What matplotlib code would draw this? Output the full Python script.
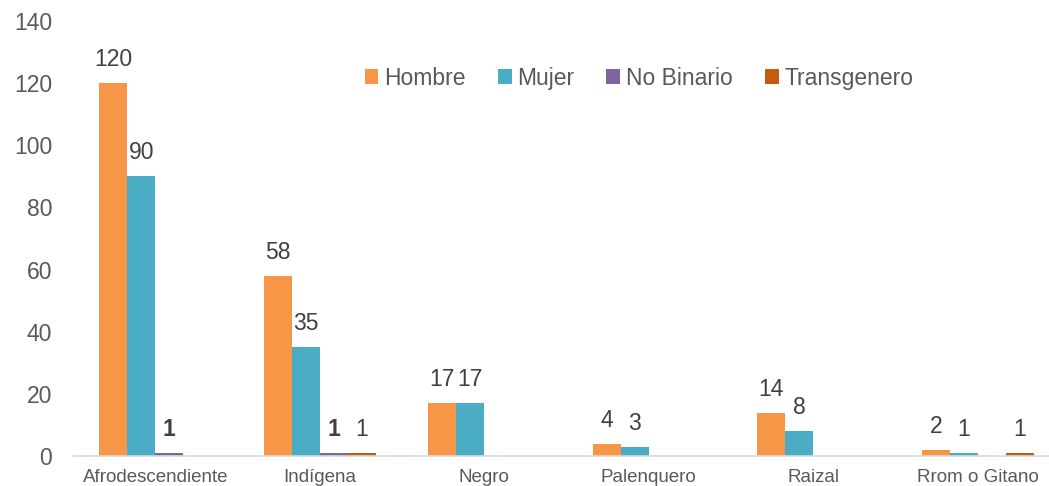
import numpy as np
import matplotlib
matplotlib.use("Agg")
import matplotlib.pyplot as plt

plt.rcParams['font.family'] = ['Liberation Sans', 'DejaVu Sans']

categorias = ['Afrodescendiente', 'Indígena', 'Negro', 'Palenquero', 'Raizal', 'Rrom o Gitano']
series = ['Hombre', 'Mujer', 'No Binario', 'Transgenero']
hombre = [120, 58, 17, 4, 14, 2]
mujer = [90, 35, 17, 3, 8, 1]
no_binario = [1, 1, 0, 0, 0, 0]
transgenero = [0, 1, 0, 0, 0, 1]
colores = ['#F79646', '#4BACC6', '#8064A2', '#C55A11']

valores = [hombre, mujer, no_binario, transgenero]
gris = '#595959'

fig = plt.figure(figsize=(10.49, 4.86), dpi=100)
ax = fig.add_axes([73 / 1049, 30 / 486, (1060 - 73) / 1049, (456 - 21) / 486])

x = np.arange(len(categorias))
w = 0.17
for i, (nombre, vals, c) in enumerate(zip(series, valores, colores)):
    pos = x + (i - 1.5) * w
    ax.bar(pos, vals, width=w, color=c, label=nombre)
    for p, v in zip(pos, vals):
        if v == 0:
            continue
        # etiquetas de datos encima de cada barra (sin ceros)
        ax.annotate(str(v), (p, v), xytext=(0, 12), textcoords='offset pixels',
                    ha='center', va='bottom', fontsize=16.5, color='#404040',
                    fontweight='bold' if nombre == 'No Binario' else 'normal')

ax.set_xlim(-0.5, len(categorias) - 0.5)
ax.set_ylim(0, 140)
ax.set_yticks(range(0, 141, 20))
ax.set_xticks(x)
ax.set_xticklabels(categorias, fontsize=13.5, color=gris)
ax.tick_params(axis='y', labelsize=16.5, labelcolor=gris, length=0, pad=15)
ax.tick_params(axis='x', length=0, pad=9)
for s in ['top', 'right', 'left']:
    ax.spines[s].set_visible(False)
ax.spines['bottom'].set_color('#D9D9D9')
ax.spines['bottom'].set_linewidth(1.2)

leg = ax.legend(ncol=4, loc='center', bbox_to_anchor=(639 / 1049, 1 - 78 / 486),
                bbox_transform=fig.transFigure, frameon=False, fontsize=16.5,
                handlelength=0.6, handleheight=0.6, handletextpad=0.25, columnspacing=1.4)
for t in leg.get_texts():
    t.set_color(gris)

fig.savefig('out.png', dpi=100)
